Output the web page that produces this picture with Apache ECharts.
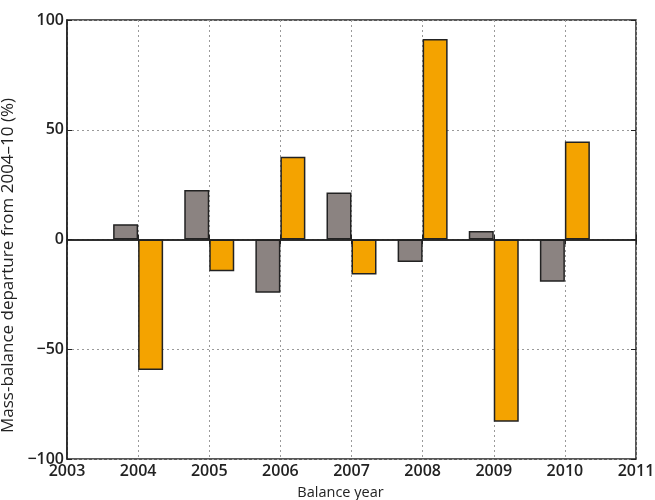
<!DOCTYPE html>
<html>
<head>
<meta charset="utf-8">
<script src="https://cdn.jsdelivr.net/npm/echarts@6/dist/echarts.min.js"></script>
<style>html,body{margin:0;padding:0;background:#fff}#c{width:655px;height:500px}</style>
</head>
<body>
<div id="c"></div>
<script>
var years = [2004, 2005, 2006, 2007, 2008, 2009, 2010];
var greyValues = [7, 22.5, -24.3, 21.4, -10.2, 3.9, -19.2];
var orangeValues = [-59.5, -14.5, 37.7, -16, 91.3, -83, 44.7];
var xTicks = [2003, 2004, 2005, 2006, 2007, 2008, 2009, 2010, 2011];
var yTicks = [-100, -50, 0, 50, 100];

var FONT = '"Open Sans", sans-serif';
var chart = echarts.init(document.getElementById('c'), null, {renderer: 'canvas'});

function pairs(vals) { return years.map(function (y, i) { return [y, vals[i]]; }); }
function minus(v) { return String(v).replace('-', '\u2212'); }

var gridLine = {show: true, lineStyle: {color: '#9a9a9a', type: [2, 3], width: 1}};

chart.setOption({
  animation: false,
  backgroundColor: '#fff',
  grid: {left: 67, right: 19, top: 20, bottom: 41, containLabel: false, outerBoundsMode: 'none',
    show: true, borderColor: '#222', borderWidth: 1.5, backgroundColor: 'transparent'},
  xAxis: [{
    type: 'value', min: xTicks[0], max: xTicks[xTicks.length - 1], interval: 1,
    name: 'Balance year', nameLocation: 'middle', nameGap: 26,
    nameTextStyle: {fontFamily: FONT, fontSize: 14.5, color: '#222', padding: [0, 22, 0, 0]},
    axisLine: {show: true, lineStyle: {color: '#222', width: 1.5}},
    axisTick: {show: true, inside: true, length: 5, lineStyle: {color: '#222'}},
    axisLabel: {fontFamily: FONT, fontSize: 16, fontWeight: 600, color: '#222', margin: 4, formatter: function (v) { return String(v); }},
    splitLine: gridLine
  }, {
    type: 'value', position: 'top', min: xTicks[0], max: xTicks[xTicks.length - 1], interval: 1,
    axisLine: {show: false}, axisTick: {show: true, inside: true, length: 5, lineStyle: {color: '#222'}},
    axisLabel: {show: false}, splitLine: {show: false}
  }],
  yAxis: [{
    type: 'value', min: yTicks[0], max: yTicks[yTicks.length - 1], interval: 50,
    name: 'Mass-balance departure from 2004\u201310 (%)', nameLocation: 'middle', nameGap: 39,
    nameTextStyle: {fontFamily: FONT, fontSize: 17, color: '#222', padding: [0, 52, 0, 0]},
    axisLine: {show: true, lineStyle: {color: '#222', width: 1.5}},
    axisTick: {show: true, inside: true, length: 5, lineStyle: {color: '#222'}},
    axisLabel: {fontFamily: FONT, fontSize: 16, fontWeight: 600, color: '#222', margin: 3, formatter: minus},
    splitLine: gridLine
  }, {
    type: 'value', position: 'right', min: yTicks[0], max: yTicks[yTicks.length - 1], interval: 50,
    axisLine: {show: false}, axisTick: {show: true, inside: true, length: 5, lineStyle: {color: '#222'}},
    axisLabel: {show: false}, splitLine: {show: false}
  }],
  series: [{
    type: 'bar', name: 'grey', data: pairs(greyValues), barWidth: 25, barGap: '0%',
    itemStyle: {color: '#8b8381', borderColor: '#222', borderWidth: 1.5},
    markLine: {silent: true, symbol: 'none', label: {show: false},
      lineStyle: {color: '#222', type: 'solid', width: 1.5}, data: [{yAxis: 0}]}
  }, {
    type: 'bar', name: 'orange', data: pairs(orangeValues), barWidth: 25, barGap: '0%',
    itemStyle: {color: '#f4a300', borderColor: '#222', borderWidth: 1.5}
  }]
});
</script>
</body>
</html>
